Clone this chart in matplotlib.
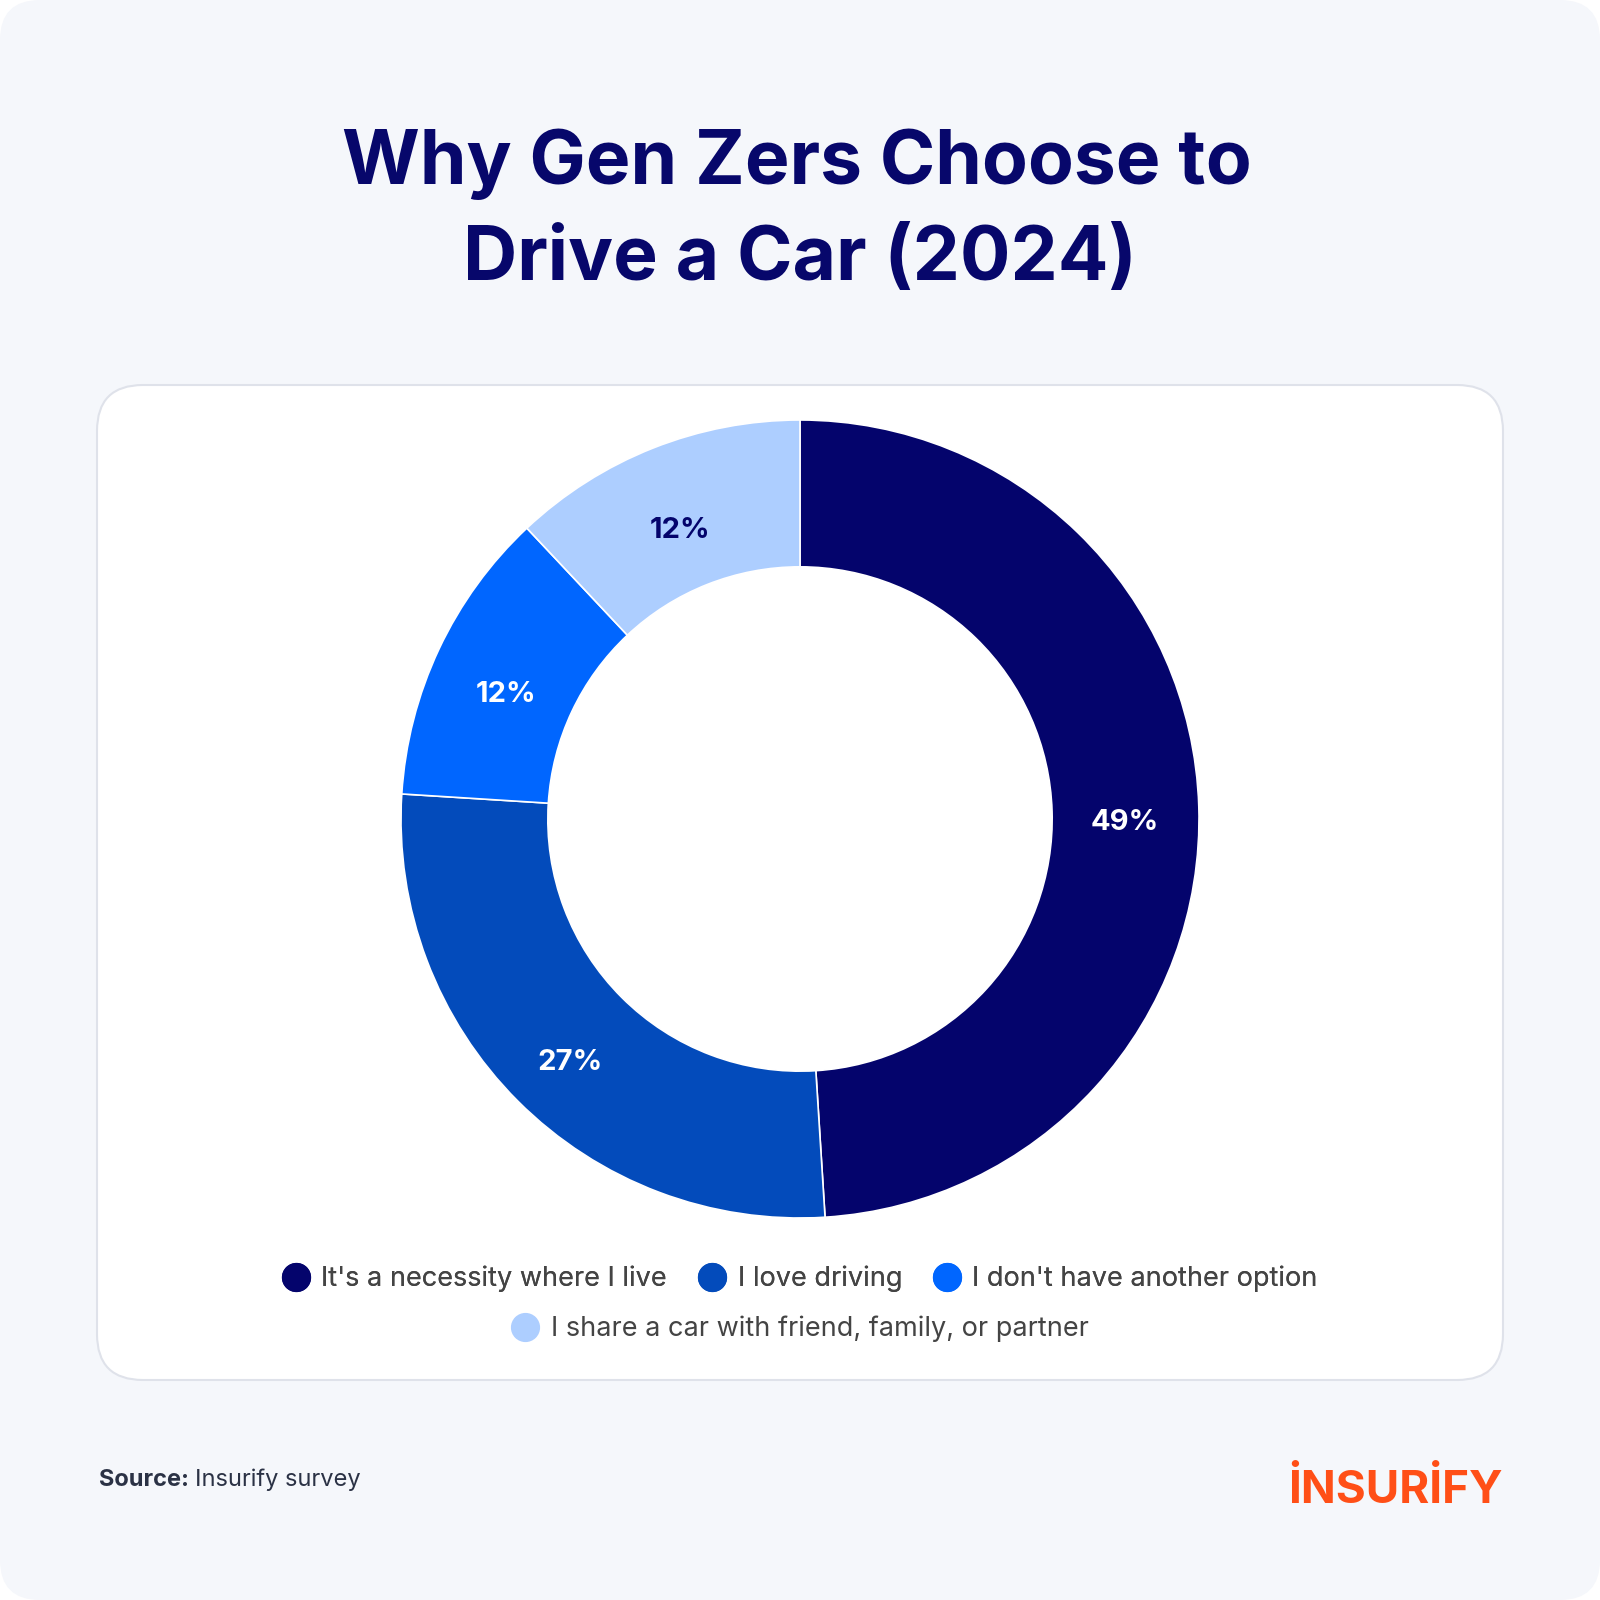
import matplotlib.pyplot as plt
from matplotlib.patches import FancyBboxPatch
from matplotlib.lines import Line2D

plt.rcParams['font.family'] = ['Inter', 'DejaVu Sans']

labels = ["It's a necessity where I live", "I love driving",
          "I don't have another option", "I share a car with friend, family, or partner"]
shares = [49, 27, 12, 12]
colors = ["#04046C", "#034BBB", "#0066FF", "#ADCEFF"]
label_colors = ["white", "white", "white", "#04046C"]

W = H = 1600
fig = plt.figure(figsize=(16, 16), dpi=100, facecolor="white")

# page background and card
bg = fig.add_axes([0, 0, 1, 1])
bg.set_xlim(0, W)
bg.set_ylim(H, 0)
bg.axis("off")
bg.add_patch(FancyBboxPatch((0, 0), W, H, boxstyle="round,pad=0,rounding_size=40",
                            facecolor="#F5F7FB", edgecolor="none"))
bg.add_patch(FancyBboxPatch((97, 385), 1406, 995, boxstyle="round,pad=0,rounding_size=46",
                            facecolor="white", edgecolor="#DFE2EA", linewidth=1.5))

navy = "#07076B"
bg.text(797, 164, "Why Gen Zers Choose to", ha="center", va="center",
        fontsize=54, fontweight="bold", color=navy)
bg.text(800, 260, "Drive a Car (2024)", ha="center", va="center",
        fontsize=54, fontweight="bold", color=navy)

# donut
cx, cy, r = 800, 819, 399
ax = fig.add_axes([(cx - r) / W, (H - cy - r) / H, 2 * r / W, 2 * r / H])
wedges, texts, autotexts = ax.pie(
    shares, colors=colors, startangle=90, counterclock=False, radius=1,
    autopct="%d%%", pctdistance=0.815,
    wedgeprops=dict(width=0.368, edgecolor="white", linewidth=1.2))
for t, c in zip(autotexts, label_colors):
    t.set_color(c)
    t.set_fontsize(21)
    t.set_fontweight("bold")
    t.set_va("top")
ax.set_xlim(-1, 1)
ax.set_ylim(-1, 1)
ax.set_aspect("equal")
ax.axis("off")

# legend in two rows
handles = [Line2D([], [], marker="o", linestyle="none", markersize=20,
                  markerfacecolor=c, markeredgecolor=c) for c in colors]
leg1 = fig.legend(handles[:3], labels[:3], ncol=3, loc="center",
                  bbox_to_anchor=(800 / W, 1 - 1279 / H), frameon=False,
                  fontsize=19.5, labelcolor="#444444", handletextpad=0.45,
                  columnspacing=1.15, handlelength=1.0)
leg2 = fig.legend(handles[3:], labels[3:], ncol=1, loc="center",
                  bbox_to_anchor=(800 / W, 1 - 1329 / H), frameon=False,
                  fontsize=19.5, labelcolor="#444444", handletextpad=0.45,
                  handlelength=1.0)
fig.add_artist(leg1)

# source and logo
src = bg.text(99, 1480, "Source:", ha="left", va="center", fontsize=17,
              fontweight="bold", color="#2B3245")
bg.annotate("Insurify survey", xy=(1, 0.5), xycoords=src, xytext=(4, 0),
            textcoords="offset points", ha="left", va="center", fontsize=17,
            color="#2B3245")
bg.text(1503, 1503, "İNSURİFY", ha="right", va="baseline", fontsize=33,
        fontweight="bold", color="#FF4F17")

fig.savefig("out.png", dpi=100, facecolor="white")
